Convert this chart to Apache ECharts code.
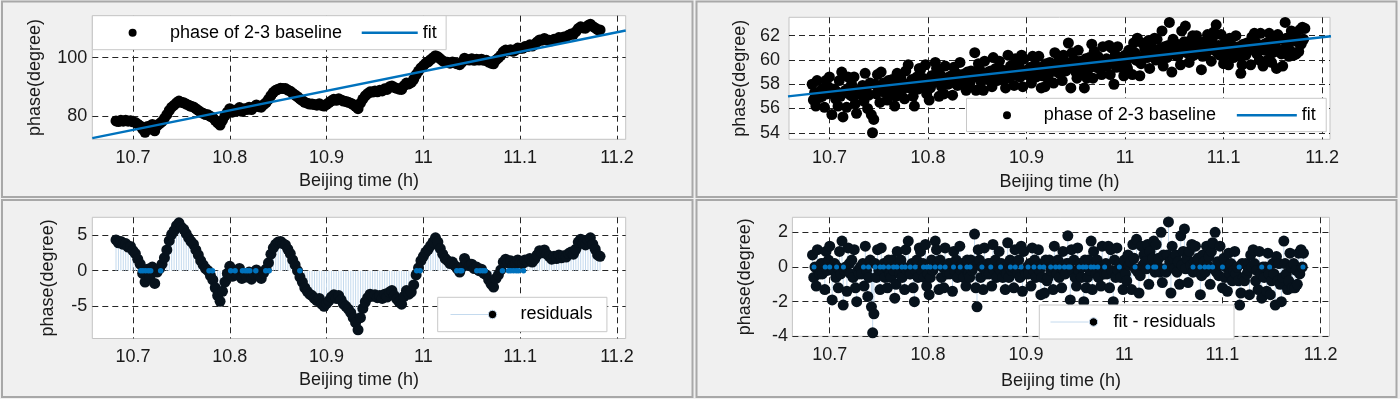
<!DOCTYPE html>
<html>
<head>
<meta charset="utf-8">
<script src="https://cdn.jsdelivr.net/npm/echarts@6/dist/echarts.min.js"></script>
<style>
  html, body { margin: 0; padding: 0; background: #f0f0f0; }
  #chart { width: 1400px; height: 399px; }
</style>
</head>
<body>
<div id="chart"></div>
<script>
// sample times for the left panels (h)
const times = [
  10.6825,10.685,10.6875,10.69,10.6925,10.695,10.6975,10.7,10.7025,10.705,
  10.7075,10.71,10.7125,10.715,10.7175,10.72,10.7225,10.725,10.7275,10.73,
  10.7325,10.735,10.7375,10.74,10.7425,10.745,10.7475,10.75,10.7525,10.755,
  10.7575,10.76,10.7625,10.765,10.7675,10.77,10.7725,10.775,10.7775,10.78,
  10.7825,10.785,10.7875,10.79,10.7925,10.795,10.7975,10.8,10.8025,10.805,
  10.8075,10.81,10.8125,10.815,10.8175,10.82,10.8225,10.825,10.8275,10.83,
  10.8325,10.835,10.8375,10.84,10.8425,10.845,10.8475,10.85,10.8525,10.855,
  10.8575,10.86,10.8625,10.865,10.8675,10.87,10.8725,10.875,10.8775,10.88,
  10.8825,10.885,10.8875,10.89,10.8925,10.895,10.8975,10.9,10.9025,10.905,
  10.9075,10.91,10.9125,10.915,10.9175,10.92,10.9225,10.925,10.9275,10.93,
  10.9325,10.935,10.9375,10.94,10.9425,10.945,10.9475,10.95,10.9525,10.955,
  10.9575,10.96,10.9625,10.965,10.9675,10.97,10.9725,10.975,10.9775,10.98,
  10.9825,10.985,10.9875,10.99,10.9925,10.995,10.9975,11,11.0025,11.005,
  11.0075,11.01,11.0125,11.015,11.0175,11.02,11.0225,11.025,11.0275,11.03,
  11.0325,11.035,11.0375,11.04,11.0425,11.045,11.0475,11.05,11.0525,11.055,
  11.0575,11.06,11.0625,11.065,11.0675,11.07,11.0725,11.075,11.0775,11.08,
  11.0825,11.085,11.0875,11.09,11.0925,11.095,11.0975,11.1,11.1025,11.105,
  11.1075,11.11,11.1125,11.115,11.1175,11.12,11.1225,11.125,11.1275,11.13,
  11.1325,11.135,11.1375,11.14,11.1425,11.145,11.1475,11.15,11.1525,11.155,
  11.1575,11.16,11.1625,11.165,11.1675,11.17,11.1725,11.175,11.1775,11.18,
  11.1825
];

// top-left: phase of 2-3 baseline (degree)
const phase = [
  78.3,78.1,78.5,78.2,78.5,78.2,78.4,78.0,77.8,77.2,
  76.6,75.5,74.4,76.4,75.5,77.1,74.9,76.7,77.4,78.1,
  79.2,80.5,81.9,83.0,83.7,84.5,85.1,84.7,84.5,84.1,
  83.7,83.3,83.1,82.5,81.9,81.3,80.9,80.5,80.4,79.9,
  79.4,78.5,77.6,76.9,78.5,80.0,81.3,82.5,81.3,82.0,
  81.8,82.9,81.6,82.5,82.2,83.0,82.2,83.1,83.8,83.2,
  83.0,83.9,84.6,85.7,87.0,88.1,88.8,89.2,89.5,89.4,
  89.4,88.9,88.5,87.8,87.2,86.6,85.9,85.3,84.7,84.4,
  84.1,84.1,83.9,83.7,84.2,83.6,83.4,84.0,84.6,85.2,
  85.7,85.4,85.9,85.5,85.1,85.0,84.7,84.4,83.9,83.3,
  82.5,84.4,85.8,86.9,87.7,88.3,88.2,88.6,88.3,88.8,
  88.6,89.3,89.1,90.0,90.3,89.8,89.5,89.2,89.1,90.4,
  91.3,91.0,91.5,92.6,94.2,95.4,96.5,97.3,98.1,98.6,
  99.3,100.0,100.7,100.3,99.6,98.9,98.5,98.4,98.1,98.5,
  98.2,97.9,97.6,98.5,99.8,99.4,99.2,99.6,99.1,99.5,
  99.2,99.5,99.1,99.1,98.5,98.1,97.9,99.2,99.9,100.8,
  102.0,102.6,102.3,102.7,102.2,102.6,103.3,103.2,103.2,103.8,
  103.8,104.4,104.0,104.6,105.4,106.1,106.0,106.6,106.1,106.0,
  105.8,106.3,106.2,106.9,106.6,107.1,107.1,107.7,108.1,108.0,
  108.9,110.0,110.6,110.2,110.1,111.0,111.5,110.7,110.2,109.6,
  109.5
];

// bottom-left: residuals (degree)
const residuals = [
  4.3,3.9,4.1,3.7,3.8,3.3,3.4,2.8,2.4,1.6,
  0.9,-0.4,-1.6,0.2,-0.9,0.5,-1.8,-0.2,0.3,0.9,
  1.8,2.9,4.2,5.1,5.6,6.3,6.7,6.1,5.8,5.2,
  4.6,4.1,3.7,2.9,2.2,1.4,0.8,0.3,0.0,-0.7,
  -1.3,-2.4,-3.5,-4.3,-2.9,-1.6,-0.4,0.6,-0.8,-0.2,
  -0.6,0.3,-1.1,-0.4,-0.9,-0.2,-1.2,-0.5,0.1,-0.7,
  -1.1,-0.3,0.2,1.1,2.3,3.2,3.7,4.0,4.1,3.8,
  3.6,3.0,2.4,1.5,0.8,0.0,-0.9,-1.6,-2.4,-2.9,
  -3.3,-3.5,-3.9,-4.2,-3.9,-4.7,-5.0,-4.6,-4.2,-3.7,
  -3.4,-3.9,-3.5,-4.1,-4.7,-5.0,-5.4,-5.9,-6.6,-7.3,
  -8.3,-6.6,-5.3,-4.4,-3.8,-3.3,-3.6,-3.4,-3.8,-3.5,
  -3.9,-3.3,-3.7,-3.0,-2.8,-3.5,-4.0,-4.4,-4.7,-3.6,
  -2.8,-3.3,-3.0,-2.0,-0.6,0.4,1.4,2.0,2.6,3.0,
  3.5,4.0,4.6,4.0,3.1,2.3,1.7,1.4,1.0,1.2,
  0.7,0.3,-0.2,0.5,1.7,1.1,0.7,0.9,0.3,0.5,
  0.0,0.2,-0.4,-0.6,-1.3,-1.9,-2.3,-1.1,-0.6,0.1,
  1.2,1.6,1.1,1.4,0.7,0.9,1.5,1.2,1.0,1.5,
  1.3,1.7,1.2,1.6,2.2,2.8,2.5,2.9,2.3,2.0,
  1.6,2.0,1.7,2.2,1.8,2.1,1.9,2.4,2.6,2.3,
  3.0,4.0,4.4,3.8,3.6,4.3,4.6,3.7,3.0,2.2,
  2.0
];

// sample times for the right panels (h)
const timesFine = [
  10.6825,10.68375,10.685,10.68625,10.6875,10.68875,10.69,10.69125,
  10.6925,10.69375,10.695,10.69625,10.6975,10.69875,10.7,10.70125,
  10.7025,10.70375,10.705,10.70625,10.7075,10.70875,10.71,10.71125,
  10.7125,10.71375,10.715,10.71625,10.7175,10.71875,10.72,10.72125,
  10.7225,10.72375,10.725,10.72625,10.7275,10.72875,10.73,10.73125,
  10.7325,10.73375,10.735,10.73625,10.7375,10.73875,10.74,10.74125,
  10.7425,10.74375,10.745,10.74625,10.7475,10.74875,10.75,10.75125,
  10.7525,10.75375,10.755,10.75625,10.7575,10.75875,10.76,10.76125,
  10.7625,10.76375,10.765,10.76625,10.7675,10.76875,10.77,10.77125,
  10.7725,10.77375,10.775,10.77625,10.7775,10.77875,10.78,10.78125,
  10.7825,10.78375,10.785,10.78625,10.7875,10.78875,10.79,10.79125,
  10.7925,10.79375,10.795,10.79625,10.7975,10.79875,10.8,10.80125,
  10.8025,10.80375,10.805,10.80625,10.8075,10.80875,10.81,10.81125,
  10.8125,10.81375,10.815,10.81625,10.8175,10.81875,10.82,10.82125,
  10.8225,10.82375,10.825,10.82625,10.8275,10.82875,10.83,10.83125,
  10.8325,10.83375,10.835,10.83625,10.8375,10.83875,10.84,10.84125,
  10.8425,10.84375,10.845,10.84625,10.8475,10.84875,10.85,10.85125,
  10.8525,10.85375,10.855,10.85625,10.8575,10.85875,10.86,10.86125,
  10.8625,10.86375,10.865,10.86625,10.8675,10.86875,10.87,10.87125,
  10.8725,10.87375,10.875,10.87625,10.8775,10.87875,10.88,10.88125,
  10.8825,10.88375,10.885,10.88625,10.8875,10.88875,10.89,10.89125,
  10.8925,10.89375,10.895,10.89625,10.8975,10.89875,10.9,10.90125,
  10.9025,10.90375,10.905,10.90625,10.9075,10.90875,10.91,10.91125,
  10.9125,10.91375,10.915,10.91625,10.9175,10.91875,10.92,10.92125,
  10.9225,10.92375,10.925,10.92625,10.9275,10.92875,10.93,10.93125,
  10.9325,10.93375,10.935,10.93625,10.9375,10.93875,10.94,10.94125,
  10.9425,10.94375,10.945,10.94625,10.9475,10.94875,10.95,10.95125,
  10.9525,10.95375,10.955,10.95625,10.9575,10.95875,10.96,10.96125,
  10.9625,10.96375,10.965,10.96625,10.9675,10.96875,10.97,10.97125,
  10.9725,10.97375,10.975,10.97625,10.9775,10.97875,10.98,10.98125,
  10.9825,10.98375,10.985,10.98625,10.9875,10.98875,10.99,10.99125,
  10.9925,10.99375,10.995,10.99625,10.9975,10.99875,11,11.00125,
  11.0025,11.00375,11.005,11.00625,11.0075,11.00875,11.01,11.01125,
  11.0125,11.01375,11.015,11.01625,11.0175,11.01875,11.02,11.02125,
  11.0225,11.02375,11.025,11.02625,11.0275,11.02875,11.03,11.03125,
  11.0325,11.03375,11.035,11.03625,11.0375,11.03875,11.04,11.04125,
  11.0425,11.04375,11.045,11.04625,11.0475,11.04875,11.05,11.05125,
  11.0525,11.05375,11.055,11.05625,11.0575,11.05875,11.06,11.06125,
  11.0625,11.06375,11.065,11.06625,11.0675,11.06875,11.07,11.07125,
  11.0725,11.07375,11.075,11.07625,11.0775,11.07875,11.08,11.08125,
  11.0825,11.08375,11.085,11.08625,11.0875,11.08875,11.09,11.09125,
  11.0925,11.09375,11.095,11.09625,11.0975,11.09875,11.1,11.10125,
  11.1025,11.10375,11.105,11.10625,11.1075,11.10875,11.11,11.11125,
  11.1125,11.11375,11.115,11.11625,11.1175,11.11875,11.12,11.12125,
  11.1225,11.12375,11.125,11.12625,11.1275,11.12875,11.13,11.13125,
  11.1325,11.13375,11.135,11.13625,11.1375,11.13875,11.14,11.14125,
  11.1425,11.14375,11.145,11.14625,11.1475,11.14875,11.15,11.15125,
  11.1525,11.15375,11.155,11.15625,11.1575,11.15875,11.16,11.16125,
  11.1625,11.16375,11.165,11.16625,11.1675,11.16875,11.17,11.17125,
  11.1725,11.17375,11.175,11.17625,11.1775,11.17875,11.18,11.18125,
  11.1825
];

// top-right: noisy phase of 2-3 baseline (degree)
const phaseNoisy = [
  58.0,56.7,57.3,56.2,58.3,57.1,56.9,57.5,
  57.0,57.6,56.1,58.3,57.2,57.8,58.6,57.4,
  55.5,57.2,57.6,56.8,57.4,56.2,58.3,57.0,
  59.0,55.3,57.3,57.5,56.1,58.6,57.7,57.1,
  58.0,57.0,58.6,56.4,55.6,57.4,57.2,57.6,
  57.3,57.9,56.6,58.9,57.5,56.0,57.1,58.1,
  55.5,54.0,55.1,58.0,57.2,58.8,57.6,56.5,
  59.0,57.7,58.1,57.3,57.9,56.7,58.3,57.5,
  57.4,58.4,57.8,56.2,57.0,58.9,58.2,57.6,
  58.5,57.5,58.1,56.8,59.1,57.9,59.6,57.7,
  57.8,58.4,57.0,56.2,58.0,58.6,57.6,59.3,
  59.2,58.1,58.5,57.7,59.6,57.2,57.9,56.7,
  57.7,58.7,58.1,58.3,59.8,59.3,58.5,57.0,
  58.8,57.8,58.4,57.2,59.5,58.2,58.0,58.6,
  58.1,58.7,57.1,59.4,58.3,58.9,57.9,58.5,
  59.8,58.4,58.8,58.0,58.6,57.5,59.0,58.2,
  58.1,59.1,58.5,58.7,60.6,57.5,56.4,59.7,
  59.2,58.2,58.8,57.5,59.9,58.6,58.4,59.0,
  58.5,59.1,57.8,60.2,58.7,59.3,58.3,58.9,
  59.9,58.8,59.2,58.4,59.0,57.7,58.6,60.4,
  58.5,59.5,58.9,59.1,57.9,60.1,59.3,58.7,
  59.6,58.6,60.4,57.8,60.1,59.0,58.8,59.2,
  58.8,59.4,58.1,60.3,59.0,59.6,58.6,59.2,
  60.3,59.1,57.7,58.7,59.5,57.8,59.7,58.5,
  58.8,59.8,59.2,59.4,58.1,60.6,59.6,59.0,
  59.9,58.9,59.5,58.3,60.4,59.3,59.1,59.7,
  61.4,59.8,57.7,60.6,59.4,60.0,59.0,58.5,
  60.8,59.5,59.9,59.1,59.7,57.7,60.1,58.5,
  59.2,60.2,59.6,61.3,58.5,60.7,60.0,59.4,
  60.3,59.3,59.9,58.8,61.1,59.7,59.5,60.1,
  59.6,61.2,58.8,61.0,59.8,58.0,60.4,59.4,
  61.1,59.8,60.2,59.4,60.0,58.7,60.4,59.6,
  59.3,60.8,60.2,60.4,58.8,61.4,60.6,60.0,
  61.8,59.9,58.7,59.7,61.4,60.3,60.9,60.5,
  60.2,61.6,59.3,61.2,60.4,60.8,61.8,60.0,
  61.7,60.5,60.9,60.1,62.4,59.5,61.1,60.3,
  60.2,61.2,63.1,60.8,59.0,61.7,61.0,60.4,
  61.3,60.3,60.9,59.6,62.4,60.7,61.5,62.8,
  60.6,61.2,59.8,61.6,60.8,62.0,60.4,61.0,
  62.0,60.9,61.3,60.5,59.2,60.3,61.5,61.1,
  60.6,62.1,61.0,61.5,59.9,61.8,62.3,60.8,
  62.9,60.6,61.2,60.4,62.1,61.0,59.7,61.4,
  60.4,61.0,59.6,61.8,60.6,61.2,60.2,60.8,
  62.0,60.7,61.1,60.3,58.9,59.6,61.3,60.5,
  60.4,61.4,60.8,61.0,59.6,61.9,61.2,62.2,
  61.5,60.5,61.1,60.0,62.2,60.9,59.5,61.3,
  60.8,61.4,60.0,62.2,61.0,59.8,60.6,61.6,
  61.1,59.3,62.1,60.7,61.7,60.5,59.5,60.9,
  63.1,61.8,61.2,60.3,60.8,62.4,61.6,60.4,
  61.9,60.5,61.5,60.7,62.5,61.3,62.7,61.7,
  62.6
];

// bottom-right: fit - residuals (degree)
const fitResiduals = [
  0.7,-0.6,0.0,-1.1,1.0,-0.2,-0.4,0.2,
  -0.4,0.2,-1.3,0.9,-0.2,0.4,1.2,0.0,
  -1.9,-0.2,0.2,-0.6,0.0,-1.2,0.9,-0.4,
  1.5,-2.2,-0.2,0.0,-1.4,1.1,0.2,-0.4,
  0.4,-0.6,1.0,-1.2,-2.0,-0.2,-0.4,0.0,
  -0.4,0.2,-1.1,1.2,-0.2,-1.7,-0.6,0.4,
  -2.3,-3.8,-2.7,0.2,-0.6,1.0,-0.2,-1.3,
  1.1,-0.2,0.2,-0.6,0.0,-1.2,0.4,-0.4,
  -0.6,0.4,-0.2,-1.8,-1.0,0.9,0.2,-0.4,
  0.4,-0.6,0.0,-1.3,1.0,-0.2,1.5,-0.4,
  -0.4,0.2,-1.2,-2.0,-0.2,0.4,-0.6,1.1,
  0.9,-0.2,0.2,-0.6,1.3,-1.1,-0.4,-1.6,
  -0.6,0.4,-0.2,0.0,1.5,1.0,0.2,-1.3,
  0.4,-0.6,0.0,-1.2,1.1,-0.2,-0.4,0.2,
  -0.4,0.2,-1.4,0.9,-0.2,0.4,-0.6,0.0,
  1.2,-0.2,0.2,-0.6,0.0,-1.1,0.4,-0.4,
  -0.6,0.4,-0.2,0.0,1.9,-1.2,-2.3,1.0,
  0.4,-0.6,0.0,-1.3,1.1,-0.2,-0.4,0.2,
  -0.4,0.2,-1.1,1.3,-0.2,0.4,-0.6,0.0,
  0.9,-0.2,0.2,-0.6,0.0,-1.3,-0.4,1.4,
  -0.6,0.4,-0.2,0.0,-1.2,1.0,0.2,-0.4,
  0.4,-0.6,1.2,-1.4,0.9,-0.2,-0.4,0.0,
  -0.4,0.2,-1.1,1.1,-0.2,0.4,-0.6,0.0,
  1.0,-0.2,-1.6,-0.6,0.2,-1.5,0.4,-0.8,
  -0.6,0.4,-0.2,0.0,-1.3,1.2,0.2,-0.4,
  0.4,-0.6,0.0,-1.2,0.9,-0.2,-0.4,0.2,
  1.8,0.2,-1.9,1.0,-0.2,0.4,-0.6,-1.1,
  1.1,-0.2,0.2,-0.6,0.0,-2.0,0.4,-1.2,
  -0.6,0.4,-0.2,1.5,-1.3,0.9,0.2,-0.4,
  0.4,-0.6,0.0,-1.1,1.2,-0.2,-0.4,0.2,
  -0.4,1.2,-1.2,1.0,-0.2,-2.0,0.4,-0.6,
  1.1,-0.2,0.2,-0.6,0.0,-1.3,0.4,-0.4,
  -0.8,0.7,0.1,0.3,-1.3,1.3,0.5,-0.1,
  1.6,-0.3,-1.5,-0.5,1.2,0.1,0.7,0.3,
  -0.1,1.3,-1.0,0.9,0.1,0.5,1.5,-0.3,
  1.3,0.1,0.5,-0.3,2.0,-0.9,0.7,-0.1,
  -0.3,0.7,2.6,0.3,-1.5,1.2,0.5,-0.1,
  0.7,-0.3,0.3,-1.0,1.8,0.1,0.9,2.2,
  -0.1,0.5,-0.9,0.9,0.1,1.3,-0.3,0.3,
  1.2,0.1,0.5,-0.3,-1.6,-0.5,0.7,0.3,
  -0.3,1.2,0.1,0.6,-1.0,0.9,1.4,-0.1,
  2.0,-0.3,0.3,-0.5,1.2,0.1,-1.2,0.5,
  -0.6,0.0,-1.4,0.8,-0.4,0.2,-0.8,-0.2,
  0.9,-0.4,0.0,-0.8,-2.2,-1.5,0.2,-0.6,
  -0.8,0.2,-0.4,-0.2,-1.6,0.7,0.0,1.0,
  0.2,-0.8,-0.2,-1.3,0.9,-0.4,-1.8,0.0,
  -0.6,0.0,-1.4,0.8,-0.4,-1.6,-0.8,0.2,
  -0.4,-2.2,0.6,-0.8,0.2,-1.0,-2.0,-0.6,
  1.5,0.2,-0.4,-1.3,-0.8,0.8,0.0,-1.2,
  0.2,-1.2,-0.2,-1.0,0.8,-0.4,1.0,0.0,
  0.8
];

// linear fits (end points over the axis span)
const fitTimes = [10.658, 11.209];
const fitPhase = [72.4, 109.3];
const fitPhaseNoisy = [57.0, 61.95];

// times of the blue markers sitting on the zero line
const zeroDotsLeft = [
  10.708,10.7103,10.7131,10.7159,10.7183,10.7286,10.7786,10.7821,10.801,10.8055,
  10.8131,10.8159,10.8183,10.8207,10.8269,10.8372,10.8407,10.8724,10.9931,10.9966,
  11.0345,11.0379,11.0397,11.0552,11.0586,11.0614,11.0638,11.0817,11.0879,11.0903,
  11.0931,11.0959,11.0983,11.1034
];
const zeroDotsRight = [
  10.684,10.6954,10.7,10.707,10.714,10.7344,10.7395,10.7463,10.7514,10.7548,
  10.7599,10.765,10.7684,10.7735,10.7769,10.782,10.7871,10.7955,10.799,10.8023,
  10.8074,10.8125,10.8176,10.8261,10.8329,10.8397,10.843,10.855,10.864,10.874,
  10.884,10.889,10.895,10.902,10.908,10.914,10.918,10.925,10.93,10.934,
  10.939,10.943,10.945,10.954,10.958,10.961,10.966,10.969,10.973,10.98,
  10.995,11.011,11.024,11.03,11.032,11.041,11.07,11.077,11.082,11.086,
  11.09,11.1,11.117,11.14,11.148,11.182
];

const FONT = 'Liberation Sans';
const TXT = { fontFamily: FONT, fontSize: 18, color: '#1a1a1a', lineHeight: 20 };
const GRIDLINE = { color: '#262626', type: [6, 4], width: 1 };

function xAxis(gridIndex, min, max, nameGap) {
  return {
    type: 'value', gridIndex, min, max, splitNumber: 5,
    name: 'Beijing time (h)', nameLocation: 'middle', nameGap,
    nameTextStyle: TXT,
    axisLine: { show: false }, axisTick: { show: false },
    axisLabel: { ...TXT, margin: 8.5, showMinLabel: false, showMaxLabel: false },
    splitLine: { show: true, showMinLine: false, showMaxLine: false, lineStyle: GRIDLINE }
  };
}

function yAxis(gridIndex, min, max, splitNumber, nameGap, margin, minIsTick) {
  return {
    type: 'value', gridIndex, min, max, splitNumber,
    name: 'phase(degree)', nameLocation: 'middle', nameGap,
    nameTextStyle: TXT,
    axisLine: { show: false }, axisTick: { show: false },
    axisLabel: { ...TXT, margin, showMinLabel: minIsTick, showMaxLabel: false },
    splitLine: { show: true, showMinLine: minIsTick, showMaxLine: false, lineStyle: GRIDLINE }
  };
}

// legend icons: first two points fix the icon box, then the drawn shapes
function dotIcon(w, cx) {
  return `path://M0,0L0,0M${w},12L${w},12M${cx - 4},6a4,4 0 1,0 8,0a4,4 0 1,0 -8,0Z`;
}
function lineIcon(w) {
  return `path://M0,0L0,0M${w},12L${w},12M0,4.7L${w},4.7L${w},7.3L0,7.3Z`;
}
function stemIcon(w, lineEnd, cx) {
  return `path://M0,0L0,0M${w},12L${w},12M0,6L${lineEnd},6M${cx - 4.2},6a4.2,4.2 0 1,0 8.4,0a4.2,4.2 0 1,0 -8.4,0Z`;
}

function legend(left, top, padding, itemWidth, itemGap, data) {
  return {
    left, top, padding, itemWidth, itemHeight: 12, itemGap, data,
    orient: 'horizontal', selectedMode: false,
    backgroundColor: '#ffffff', borderColor: '#c8c8c8', borderWidth: 1, borderRadius: 0,
    textStyle: { fontFamily: FONT, fontSize: 18, color: '#000', lineHeight: 20 }
  };
}

const pairs = (xs, ys) => xs.map((x, i) => [x, ys[i]]);
const onZero = xs => xs.map(x => [x, 0]);

const stemColor = '#c4daee';
const dotDark = '#07121c';
const blue = '#0072bd';

const frameStyle = { fill: 'none', stroke: '#a8a8a8', lineWidth: 2 };

const chart = echarts.init(document.getElementById('chart'), null, { renderer: 'canvas' });

chart.setOption({
  animation: false,
  backgroundColor: '#f0f0f0',
  textStyle: { fontFamily: FONT },
  graphic: [
    { type: 'rect', silent: true, z: -1, shape: { x: 2, y: 1.5, width: 690.5, height: 195.5 }, style: frameStyle },
    { type: 'rect', silent: true, z: -1, shape: { x: 696.5, y: 1.5, width: 700, height: 195.5 }, style: frameStyle },
    { type: 'rect', silent: true, z: -1, shape: { x: 2, y: 200, width: 690.5, height: 197 }, style: frameStyle },
    { type: 'rect', silent: true, z: -1, shape: { x: 696.5, y: 200, width: 700, height: 197 }, style: frameStyle }
  ],
  grid: [
    { left: 92.3, top: 15.7, width: 533.4, height: 123.6 },
    { left: 789, top: 17.3, width: 541, height: 122 },
    { left: 92.3, top: 217.3, width: 533.4, height: 121.2 },
    { left: 792.4, top: 217.3, width: 537.1, height: 119 }
  ].map(g => ({ ...g, show: true, backgroundColor: '#ffffff', borderColor: '#c4c4c4', borderWidth: 1, outerBoundsMode: 'none' })),
  xAxis: [
    xAxis(0, 10.658, 11.209, 32.2),
    xAxis(1, 10.659, 11.208, 32.4),
    xAxis(2, 10.658, 11.209, 32),
    xAxis(3, 10.662, 11.209, 34.4)
  ],
  yAxis: [
    yAxis(0, 72.0, 114.4, 2, 47.3, 5, false),
    yAxis(1, 53.46, 63.52, 5, 39, 9, false),
    yAxis(2, -9.52, 7.48, 3, 34, 5, false),
    yAxis(3, -4, 2.87, 3, 37.8, 4.5, true)
  ],
  legend: [
    legend(92.4, 15.7, [7, 9.4, 7, 16.6], 56, 19.6, [
      { name: 'phase of 2-3 baseline', icon: dotIcon(56, 23.6) },
      { name: 'fit', icon: lineIcon(56), itemStyle: { borderWidth: 0 } }
    ]),
    legend(966.5, 98.3, [7, 10.4, 6.4, 12.3], 60, 20.9, [
      { name: 'phase of 2-3 baseline', icon: dotIcon(60, 28.2) },
      { name: 'fit', icon: lineIcon(60), itemStyle: { borderWidth: 0 } }
    ]),
    legend(437.7, 297.3, [7.2, 14.4, 7.2, 12.3], 65, 10, [
      { name: 'residuals', icon: stemIcon(65, 38, 42), itemStyle: { color: '#000', borderColor: stemColor, borderWidth: 1 } }
    ]),
    legend(1039.3, 305, [7, 18.5, 7, 10.7], 58, 10, [
      { name: 'fit - residuals', icon: stemIcon(58, 38, 43), itemStyle: { color: '#000', borderColor: stemColor, borderWidth: 1 } }
    ])
  ],
  series: [
    // top-left
    { type: 'scatter', name: 'phase of 2-3 baseline', xAxisIndex: 0, yAxisIndex: 0, silent: true,
      data: pairs(times, phase), symbolSize: 11, itemStyle: { color: '#000', opacity: 1 } },
    { type: 'line', name: 'fit', xAxisIndex: 0, yAxisIndex: 0, silent: true, color: blue,
      data: pairs(fitTimes, fitPhase), symbol: 'none', showSymbol: false, lineStyle: { color: blue, width: 2.5 } },
    // top-right
    { type: 'scatter', name: 'phase of 2-3 baseline', xAxisIndex: 1, yAxisIndex: 1, silent: true,
      data: pairs(timesFine, phaseNoisy), symbolSize: 11, itemStyle: { color: '#000', opacity: 1 } },
    { type: 'line', name: 'fit', xAxisIndex: 1, yAxisIndex: 1, silent: true, color: blue,
      data: pairs(fitTimes, fitPhaseNoisy), symbol: 'none', showSymbol: false, lineStyle: { color: blue, width: 2.5 } },
    // bottom-left
    { type: 'bar', name: 'residual stems', xAxisIndex: 2, yAxisIndex: 2, silent: true,
      data: pairs(times, residuals), barWidth: 1, itemStyle: { color: stemColor } },
    { type: 'scatter', name: 'residuals', xAxisIndex: 2, yAxisIndex: 2, silent: true,
      data: pairs(times, residuals), symbolSize: 11, itemStyle: { color: dotDark, opacity: 1 } },
    { type: 'scatter', name: 'zero line markers', xAxisIndex: 2, yAxisIndex: 2, silent: true,
      data: onZero(zeroDotsLeft), symbolSize: 5.5, itemStyle: { color: blue, opacity: 1 } },
    // bottom-right
    { type: 'bar', name: 'fit - residual stems', xAxisIndex: 3, yAxisIndex: 3, silent: true,
      data: pairs(timesFine, fitResiduals), barWidth: 1, itemStyle: { color: stemColor } },
    { type: 'scatter', name: 'fit - residuals', xAxisIndex: 3, yAxisIndex: 3, silent: true,
      data: pairs(timesFine, fitResiduals), symbolSize: 11, itemStyle: { color: dotDark, opacity: 1 } },
    { type: 'scatter', name: 'zero line markers right', xAxisIndex: 3, yAxisIndex: 3, silent: true,
      data: onZero(zeroDotsRight), symbolSize: 5, itemStyle: { color: blue, opacity: 1 } }
  ]
});

window.addEventListener('resize', () => chart.resize());
</script>
</body>
</html>
